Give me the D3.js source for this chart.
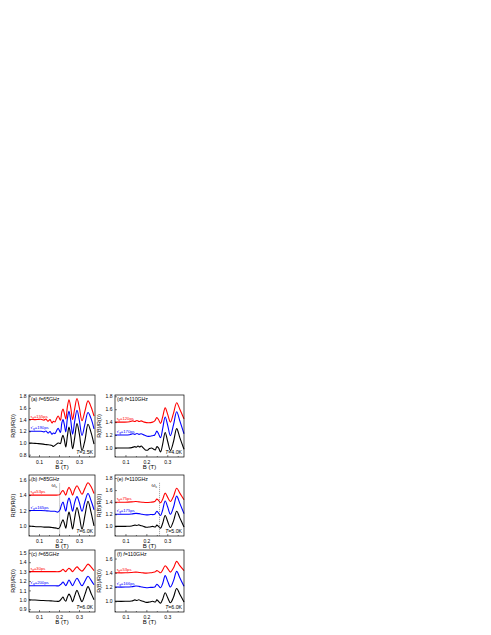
<!DOCTYPE html>
<html>
<head>
<script src="https://d3js.org/d3.v7.min.js"></script>
<style>
body { margin: 0; background: #fff; }
svg { display: block; font-family: "Liberation Sans", Arial, sans-serif; }
</style>
</head>
<body>
<svg id="chart" width="491" height="635"></svg>
<script>
// ---- data: [B (T), R(B)/R(0)] ----
const aBlack = [[0.05,1.00],[0.07,0.995],[0.09,0.99],[0.11,0.985],[0.13,0.975],[0.145,0.97],[0.155,0.965],[0.165,0.955],[0.172,0.94],[0.178,0.955],[0.186,0.975],[0.196,1.0],[0.207,0.99],[0.214,1.08],[0.22,1.13],[0.227,1.05],[0.234,0.93],[0.242,1.12],[0.25,1.27],[0.259,1.12],[0.268,0.9],[0.278,1.08],[0.29,1.33],[0.302,1.15],[0.315,0.87],[0.33,1.05],[0.345,1.32],[0.36,1.18],[0.375,0.98]];
const aBlue  = [[0.05,1.20],[0.07,1.20],[0.09,1.20],[0.11,1.20],[0.125,1.19],[0.135,1.205],[0.145,1.17],[0.155,1.195],[0.165,1.15],[0.172,1.17],[0.18,1.16],[0.188,1.21],[0.196,1.25],[0.207,1.18],[0.214,1.34],[0.22,1.40],[0.227,1.31],[0.234,1.19],[0.242,1.42],[0.25,1.54],[0.259,1.38],[0.268,1.15],[0.278,1.36],[0.29,1.56],[0.302,1.38],[0.315,1.13],[0.33,1.33],[0.345,1.52],[0.36,1.42],[0.375,1.24]];
const aRed   = [[0.05,1.40],[0.07,1.40],[0.09,1.40],[0.11,1.405],[0.125,1.39],[0.135,1.41],[0.145,1.37],[0.155,1.40],[0.165,1.34],[0.172,1.37],[0.18,1.36],[0.188,1.42],[0.196,1.46],[0.207,1.39],[0.214,1.53],[0.22,1.58],[0.227,1.50],[0.234,1.41],[0.242,1.62],[0.25,1.74],[0.259,1.60],[0.268,1.40],[0.278,1.58],[0.29,1.76],[0.302,1.60],[0.315,1.38],[0.33,1.55],[0.345,1.72],[0.36,1.62],[0.375,1.46]];

const bBlack = [[0.05,1.0],[0.07,0.995],[0.09,0.99],[0.11,0.99],[0.13,0.985],[0.15,0.985],[0.165,0.98],[0.18,0.975],[0.19,0.97],[0.196,0.965],[0.203,0.98],[0.212,1.04],[0.22,1.08],[0.227,1.03],[0.234,0.97],[0.242,1.09],[0.25,1.18],[0.259,1.08],[0.268,0.96],[0.278,1.10],[0.29,1.24],[0.302,1.12],[0.315,0.96],[0.33,1.14],[0.345,1.32],[0.36,1.18],[0.375,1.0]];
const bBlue  = [[0.05,1.20],[0.08,1.20],[0.11,1.20],[0.14,1.195],[0.165,1.19],[0.18,1.19],[0.195,1.18],[0.205,1.21],[0.212,1.27],[0.22,1.31],[0.227,1.25],[0.234,1.19],[0.242,1.30],[0.25,1.36],[0.259,1.29],[0.268,1.19],[0.278,1.30],[0.29,1.38],[0.302,1.30],[0.315,1.19],[0.33,1.32],[0.345,1.42],[0.36,1.33],[0.375,1.21]];
const bRed   = [[0.05,1.40],[0.08,1.40],[0.11,1.40],[0.14,1.40],[0.17,1.40],[0.195,1.40],[0.205,1.41],[0.212,1.44],[0.22,1.46],[0.227,1.43],[0.234,1.40],[0.242,1.46],[0.25,1.50],[0.259,1.46],[0.268,1.40],[0.278,1.47],[0.29,1.52],[0.302,1.47],[0.315,1.41],[0.33,1.49],[0.345,1.56],[0.36,1.51],[0.375,1.42]];

const cBlack = [[0.05,1.0],[0.08,0.997],[0.11,0.993],[0.14,0.99],[0.16,0.988],[0.18,0.985],[0.2,0.985],[0.212,1.01],[0.22,1.03],[0.227,1.0],[0.234,0.985],[0.242,1.03],[0.25,1.06],[0.259,1.03],[0.268,0.98],[0.278,1.04],[0.29,1.10],[0.302,1.04],[0.315,0.98],[0.33,1.06],[0.345,1.14],[0.36,1.07],[0.375,1.0]];
const cBlue  = [[0.05,1.15],[0.08,1.15],[0.11,1.15],[0.14,1.15],[0.17,1.15],[0.2,1.15],[0.212,1.17],[0.22,1.19],[0.227,1.17],[0.234,1.15],[0.242,1.18],[0.25,1.21],[0.259,1.18],[0.268,1.15],[0.278,1.19],[0.29,1.23],[0.302,1.19],[0.315,1.15],[0.33,1.20],[0.345,1.25],[0.36,1.21],[0.375,1.16]];
const cRed   = [[0.05,1.30],[0.08,1.30],[0.11,1.30],[0.14,1.30],[0.17,1.30],[0.2,1.30],[0.212,1.31],[0.22,1.325],[0.227,1.31],[0.234,1.30],[0.242,1.32],[0.25,1.335],[0.259,1.32],[0.268,1.30],[0.278,1.325],[0.29,1.35],[0.302,1.325],[0.315,1.305],[0.33,1.34],[0.345,1.38],[0.36,1.35],[0.375,1.31]];

const dBlack = [[0.05,1.0],[0.08,1.0],[0.11,1.0],[0.13,1.005],[0.145,1.02],[0.152,1.01],[0.16,1.03],[0.168,1.015],[0.175,1.03],[0.185,1.0],[0.195,0.97],[0.205,0.965],[0.215,0.99],[0.225,1.0],[0.235,0.98],[0.243,0.97],[0.25,1.02],[0.258,1.0],[0.268,0.94],[0.278,1.06],[0.29,1.24],[0.302,1.10],[0.315,0.96],[0.33,1.10],[0.345,1.30],[0.36,1.16],[0.38,0.98]];
const dBlue  = [[0.05,1.20],[0.09,1.20],[0.12,1.205],[0.135,1.22],[0.145,1.21],[0.155,1.225],[0.165,1.21],[0.175,1.22],[0.19,1.20],[0.21,1.18],[0.23,1.19],[0.24,1.20],[0.25,1.26],[0.258,1.22],[0.268,1.16],[0.278,1.30],[0.29,1.48],[0.302,1.35],[0.315,1.19],[0.33,1.36],[0.345,1.56],[0.36,1.42],[0.38,1.22]];
const dRed   = [[0.05,1.40],[0.09,1.40],[0.12,1.405],[0.135,1.42],[0.145,1.41],[0.155,1.425],[0.165,1.41],[0.175,1.42],[0.19,1.40],[0.21,1.39],[0.23,1.40],[0.24,1.42],[0.25,1.47],[0.258,1.44],[0.268,1.38],[0.278,1.48],[0.29,1.62],[0.302,1.52],[0.315,1.40],[0.33,1.54],[0.345,1.70],[0.36,1.60],[0.38,1.45]];

const eBlack = [[0.05,1.0],[0.1,1.0],[0.13,1.005],[0.145,1.02],[0.155,1.015],[0.163,1.025],[0.172,1.015],[0.185,1.0],[0.2,0.985],[0.215,0.99],[0.23,1.0],[0.243,0.99],[0.25,1.02],[0.258,1.0],[0.268,0.97],[0.278,1.05],[0.29,1.18],[0.302,1.08],[0.315,0.98],[0.33,1.09],[0.345,1.25],[0.36,1.14],[0.38,0.99]];
const eBlue  = [[0.05,1.20],[0.1,1.20],[0.13,1.205],[0.15,1.215],[0.165,1.21],[0.18,1.20],[0.2,1.19],[0.22,1.195],[0.24,1.20],[0.25,1.25],[0.258,1.22],[0.268,1.18],[0.278,1.27],[0.29,1.42],[0.302,1.32],[0.315,1.20],[0.33,1.32],[0.345,1.50],[0.36,1.38],[0.38,1.21]];
const eRed   = [[0.05,1.40],[0.1,1.40],[0.13,1.405],[0.15,1.41],[0.165,1.405],[0.18,1.40],[0.2,1.395],[0.22,1.40],[0.24,1.41],[0.25,1.45],[0.258,1.43],[0.268,1.39],[0.278,1.45],[0.29,1.55],[0.302,1.48],[0.315,1.41],[0.33,1.50],[0.345,1.63],[0.36,1.55],[0.38,1.44]];

const fBlack = [[0.05,1.0],[0.1,1.0],[0.13,1.005],[0.145,1.02],[0.155,1.012],[0.163,1.022],[0.172,1.012],[0.185,1.0],[0.2,0.985],[0.215,0.99],[0.23,1.0],[0.243,0.99],[0.25,1.02],[0.258,1.0],[0.268,0.975],[0.278,1.03],[0.29,1.12],[0.302,1.05],[0.315,0.98],[0.33,1.06],[0.345,1.18],[0.36,1.10],[0.38,0.99]];
const fBlue  = [[0.05,1.20],[0.1,1.20],[0.13,1.205],[0.15,1.215],[0.165,1.21],[0.18,1.20],[0.2,1.19],[0.22,1.195],[0.24,1.20],[0.25,1.24],[0.258,1.22],[0.268,1.19],[0.278,1.25],[0.29,1.36],[0.302,1.28],[0.315,1.20],[0.33,1.29],[0.345,1.42],[0.36,1.33],[0.38,1.21]];
const fRed   = [[0.05,1.40],[0.1,1.40],[0.13,1.405],[0.15,1.41],[0.165,1.405],[0.18,1.40],[0.2,1.395],[0.22,1.40],[0.24,1.41],[0.25,1.43],[0.258,1.42],[0.268,1.40],[0.278,1.44],[0.29,1.50],[0.302,1.46],[0.315,1.41],[0.33,1.47],[0.345,1.56],[0.36,1.50],[0.38,1.43]];

const panelIds   = ['a', 'b', 'c', 'd', 'e', 'f'];
const freqs      = ['65GHz', '85GHz', '65GHz', '110GHz', '110GHz', '110GHz'];
const temps      = ['3.5K', '6.0K', '6.0K', '4.0K', '5.0K', '6.0K'];
const tauQ       = ['155ps', '53ps', '30ps', '120ps', '75ps', '53ps'];
const tauQprime  = ['190ps', '165ps', '200ps', '170ps', '175ps', '166ps'];
const yTickSets  = [
  [0.8, 1.0, 1.2, 1.4, 1.6, 1.8],
  [1.0, 1.2, 1.4, 1.6],
  [0.9, 1.0, 1.1, 1.2, 1.3, 1.4, 1.5],
  [1.0, 1.2, 1.4, 1.6, 1.8],
  [1.0, 1.2, 1.4, 1.6, 1.8],
  [1.0, 1.2, 1.4, 1.6]
];
const yDomains   = [[0.76, 1.82], [0.87, 1.66], [0.87, 1.53], [0.86, 1.82], [0.84, 1.85], [0.85, 1.72]];
const wcField    = [null, 0.203, null, null, 0.263, null];   // cyclotron resonance B
const xTicks     = [0.1, 0.2, 0.3];
const xDomain    = [0.05, 0.38];

const curves = [
  [aBlack, aBlue, aRed], [bBlack, bBlue, bRed], [cBlack, cBlue, cRed],
  [dBlack, dBlue, dRed], [eBlack, eBlue, eRed], [fBlack, fBlue, fRed]
];
const colors = ['#000000', '#0000ff', '#ff0000'];

// ---- layout ----
const colX = [[29, 95], [115, 184]];
const rowY = [[395, 457], [475, 536], [550, 612]];

const svg = d3.select('#chart');

panelIds.forEach((id, i) => {
  const col = i < 3 ? 0 : 1;
  const row = i % 3;
  const [x0, x1] = colX[col];
  const [y0, y1] = rowY[row];

  const x = d3.scaleLinear().domain(xDomain).range([x0, x1]);
  const y = d3.scaleLinear().domain(yDomains[i]).range([y1, y0]);

  const g = svg.append('g');

  // curves
  const line = d3.line()
    .x(d => x(d[0]))
    .y(d => y(d[1]))
    .curve(d3.curveCatmullRom.alpha(0.5));

  curves[i].forEach((c, k) => {
    g.append('path')
      .attr('d', line(c))
      .attr('fill', 'none')
      .attr('stroke', colors[k])
      .attr('stroke-width', 1.1);
  });

  // cyclotron resonance marker
  if (wcField[i] !== null) {
    const top = i === 1 ? 1.55 : 1.72;
    g.append('line')
      .attr('x1', x(wcField[i])).attr('x2', x(wcField[i]))
      .attr('y1', y(top)).attr('y2', y1)
      .attr('stroke', '#555').attr('stroke-width', 0.6)
      .attr('stroke-dasharray', '1,1');
    const wt = g.append('text')
      .attr('x', x(wcField[i]) - 8).attr('y', y(top) + 4)
      .attr('font-size', 5).attr('fill', '#000');
    wt.append('tspan').text('ω');
    wt.append('tspan').attr('font-size', 3.5).attr('dy', 1).text('c');
  }

  // axes
  const xAxis = d3.axisBottom(x).tickValues(xTicks).tickSize(-2).tickFormat(d3.format('.1f'));
  const xg = g.append('g').attr('transform', `translate(0,${y1})`).call(xAxis);
  xg.select('.domain').remove();
  xg.selectAll('text').attr('font-size', 5).attr('fill', '#000')
    .style('font-family', '"Liberation Sans", Arial, sans-serif');

  const xMinor = d3.axisBottom(x).tickValues([0.05, 0.15, 0.25, 0.35]).tickSize(-1).tickFormat('');
  g.append('g').attr('transform', `translate(0,${y1})`).call(xMinor).select('.domain').remove();

  const yAxis = d3.axisLeft(y).tickValues(yTickSets[i]).tickSize(-2).tickFormat(d3.format('.1f'));
  const yg = g.append('g').attr('transform', `translate(${x0},0)`).call(yAxis);
  yg.select('.domain').remove();
  yg.selectAll('text').attr('font-size', 5).attr('x', -2.5).attr('fill', '#000')
    .style('font-family', '"Liberation Sans", Arial, sans-serif');
  g.selectAll('.tick line').attr('stroke', '#000').attr('stroke-width', 0.5);

  // frame
  g.append('rect')
    .attr('x', x0).attr('y', y0).attr('width', x1 - x0).attr('height', y1 - y0)
    .attr('fill', 'none').attr('stroke', '#000').attr('stroke-width', 0.7);

  // axis titles
  g.append('text')
    .attr('x', (x0 + x1) / 2).attr('y', y1 + 12)
    .attr('text-anchor', 'middle').attr('font-size', 6)
    .text('B (T)');
  g.append('text')
    .attr('transform', `translate(${x0 - 14},${(y0 + y1) / 2}) rotate(-90)`)
    .attr('text-anchor', 'middle').attr('font-size', 5.5)
    .text('R(B)/R(0)');

  // panel title
  const t = g.append('text').attr('x', x0 + 2).attr('y', y0 + 6).attr('font-size', 5.2);
  t.append('tspan').text(`(${id}) `);
  t.append('tspan').attr('font-style', 'italic').text('f');
  t.append('tspan').text('=' + freqs[i]);

  // temperature
  const tt = g.append('text').attr('x', x1 - 2).attr('y', y1 - 3)
    .attr('text-anchor', 'end').attr('font-size', 5.2);
  tt.append('tspan').attr('font-style', 'italic').text('T');
  tt.append('tspan').text('=' + temps[i]);

  // tau labels
  const redBase = curves[i][2][0][1];
  const blueBase = curves[i][1][0][1];
  const rl = g.append('text').attr('x', x(0.058)).attr('y', y(redBase) - 2)
    .attr('font-size', 4.2).attr('fill', '#ff0000');
  rl.append('tspan').text('τ');
  rl.append('tspan').attr('font-size', 3).attr('dy', 1).text('q');
  rl.append('tspan').attr('dy', -1).text('=' + tauQ[i]);

  const bl = g.append('text').attr('x', x(0.058)).attr('y', y(blueBase) - 2)
    .attr('font-size', 4.2).attr('fill', '#0000ff');
  bl.append('tspan').text('τ′');
  bl.append('tspan').attr('font-size', 3).attr('dy', 1).text('q');
  bl.append('tspan').attr('dy', -1).text('=' + tauQprime[i]);
});
</script>
</body>
</html>
